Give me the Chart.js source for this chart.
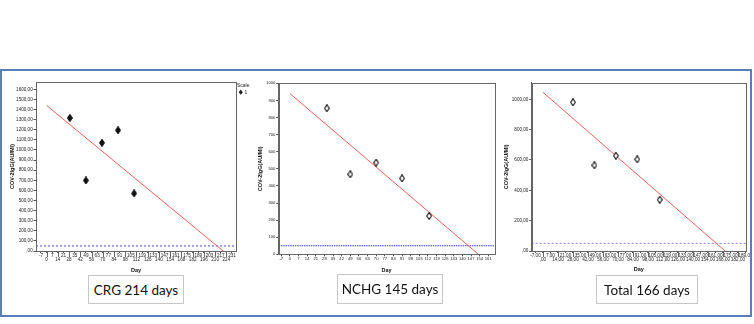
<!DOCTYPE html>
<html><head><meta charset="utf-8">
<script src="https://cdn.jsdelivr.net/npm/chart.js@4.4.1/dist/chart.umd.min.js"></script>
<style>
html,body{margin:0;padding:0;background:#fff;width:754px;height:324px;overflow:hidden;position:relative;font-family:'Liberation Sans',Arial,sans-serif;}
.outer{position:absolute;left:0;top:69px;width:752px;height:248px;box-sizing:border-box;border:2px solid #5a7eb8;z-index:5;pointer-events:none;}
.wrap{position:absolute;overflow:hidden;}
.wrap canvas{position:absolute;left:0;top:0;}
.lbl{position:absolute;box-sizing:border-box;border:1px solid #c6c6c6;background:#fff;display:flex;align-items:center;justify-content:center;font-family:Lato,'Open Sans',sans-serif;font-size:13.5px;color:#111;z-index:4;}
.leg{position:absolute;font-size:5px;color:#222;line-height:1;z-index:4;}
</style>
</head><body>
<div class="outer"></div>
<div class="wrap" style="left:2px;top:72px;width:253px;height:204px;"><canvas id="c1" width="253" height="204"></canvas></div>
<div class="wrap" style="left:252px;top:72px;width:248px;height:204px;"><canvas id="c2" width="248" height="204"></canvas></div>
<div class="wrap" style="left:500px;top:72px;width:250px;height:204px;"><canvas id="c3" width="262" height="204"></canvas></div>
<div class="leg" id="legTitle" style="left:237px;top:83px;"></div>
<div class="leg" style="left:238px;top:88.5px;font-size:7px;font-family:'DejaVu Sans';transform:scaleX(0.75);">&#9670;</div>
<div class="leg" id="legItem" style="left:244.5px;top:90px;"></div>
<div class="lbl" id="l1" style="left:88px;top:275px;width:96px;height:29px;"></div>
<div class="lbl" id="l2" style="left:337px;top:274px;width:106px;height:30px;"></div>
<div class="lbl" id="l3" style="left:596px;top:275px;width:102px;height:29px;"></div>
<script>
// ---- data ----
const crgDays = [29, 49, 69, 89, 109];
const crgValues = [1316, 698, 1070, 1195, 570];
const crgFitDays = [0, 220];
const crgFitValues = [1440, 0];
const crgXTicks = [-7,0,7,14,21,28,35,42,49,56,63,70,77,84,91,98,105,112,119,126,133,140,147,154,161,168,175,182,189,196,203,210,217,224,231];
const crgYTicks = [0,100,200,300,400,500,600,700,800,900,1000,1100,1200,1300,1400,1500,1600];

const nchgDays = [30, 49, 70, 91, 113];
const nchgValues = [854, 468, 536, 444, 224];
const nchgFitDays = [0, 153];
const nchgFitValues = [940, 0];
const nchgXTicks = [-7,0,7,14,21,28,35,42,49,56,63,70,77,84,91,98,105,112,119,126,133,140,147,154,161];
const nchgYTicks = [0,100,200,300,400,500,600,700,800,900,1000];

const totalDays = [28, 48, 68, 88, 109];
const totalValues = [980, 565, 628, 604, 338];
const totalFitDays = [0, 170];
const totalFitValues = [1046, 0];
const totalXTicks = [-7,0,7,14,21,28,35,42,49,56,63,70,77,84,91,98,105,112,119,126,133,140,147,154,161,168,175,182,189];
const totalYTicks = [0,200,400,600,800,1000];

const cutoffValue = 50;
const panelLabels = ['CRG 214 days', 'NCHG 145 days', 'Total 166 days'];
const yTitle = 'COV-2IgG(AU/Ml)';
const xTitle = 'Day';
const legendTitle = 'Scale';
const legendItem = '1';

document.getElementById('l1').textContent = panelLabels[0];
document.getElementById('l2').textContent = panelLabels[1];
document.getElementById('l3').textContent = panelLabels[2];
document.getElementById('legTitle').textContent = legendTitle;
document.getElementById('legItem').textContent = legendItem;

function diamond(fill) {
  const c = document.createElement('canvas');
  c.width = 6; c.height = 8;
  const g = c.getContext('2d');
  g.beginPath();
  g.moveTo(3, 0.6); g.lineTo(5.4, 4); g.lineTo(3, 7.4); g.lineTo(0.6, 4); g.closePath();
  g.fillStyle = fill; g.fill();
  g.strokeStyle = '#111'; g.lineWidth = 1.1; g.stroke();
  return c;
}

const commaFmt = v => (v === 0 ? ',00' : v + ',00');
const plainFmt = v => String(v);

const framePlugin = {
  id: 'panelFrame',
  afterDatasetsDraw(chart, args, opts) {
    const {ctx, chartArea: a} = chart;
    ctx.save();
    ctx.strokeStyle = '#666'; ctx.lineWidth = 1;
    ctx.strokeRect(Math.round(a.left) + 0.5, Math.round(a.top) + 0.5, Math.round(a.right - a.left), Math.round(a.bottom - a.top));
    if (opts && opts.stagger) {
      const xs = chart.scales.x;
      xs.ticks.forEach((t, i) => {
        if (i % 2 === 1) {
          const px = Math.round(xs.getPixelForValue(t.value)) + 0.5;
          ctx.beginPath(); ctx.moveTo(px, a.bottom); ctx.lineTo(px, a.bottom + 6); ctx.stroke();
        }
      });
    }
    ctx.restore();
  }
};

function makeChart(id, o) {
  const tickFont = {family: "'Liberation Sans', Arial", size: o.tickSize, lineHeight: 0.95};
  const titleFont = {family: "'Liberation Sans', Arial", size: 5.5, weight: 'bold', lineHeight: 1.2};
  return new Chart(document.getElementById(id), {
    type: 'scatter',
    data: { datasets: [
      { data: o.days.map((d, i) => ({x: d, y: o.values[i]})), pointStyle: o.marker, pointRadius: 4 },
      { data: o.fitDays.map((d, i) => ({x: d, y: o.fitValues[i]})), showLine: true, borderColor: '#f0605c', borderWidth: 1, pointRadius: 0 },
      { data: [{x: o.xMin, y: cutoffValue}, {x: o.xMax, y: cutoffValue}], showLine: true, borderColor: o.cutColor, borderWidth: 1, borderDash: o.cutDash, pointRadius: 0 }
    ]},
    options: {
      responsive: false, animation: false, events: [],
      layout: {padding: {top: o.padTop, right: o.padRight, left: 0, bottom: 0}},
      plugins: {legend: {display: false}, tooltip: {enabled: false}, panelFrame: {stagger: o.stagger}},
      scales: {
        x: {
          type: 'linear', min: o.xMin, max: o.xMax,
          afterBuildTicks: s => { s.ticks = o.xTicks.map(v => ({value: v})); },
          afterFit: s => { s.height = o.xAxisHeight; },
          grid: {drawOnChartArea: false, tickLength: 2, color: '#555', tickColor: '#555'},
          border: {color: '#666'},
          ticks: {autoSkip: false, maxRotation: 0, minRotation: 0, padding: 0.5, font: tickFont, color: '#222',
            callback: (v, i) => o.stagger ? (i % 2 === 0 ? [o.xFmt(v), ''] : ['', o.xFmt(v)]) : o.xFmt(v)},
          title: {display: true, text: xTitle, color: '#111', font: titleFont, padding: {top: 0, bottom: o.xTitlePad}}
        },
        y: {
          type: 'linear', min: 0, max: o.yMax,
          afterBuildTicks: s => { s.ticks = o.yTicks.map(v => ({value: v})); },
          afterFit: s => { s.width = o.yAxisWidth; },
          grid: {drawOnChartArea: false, tickLength: 2.5, color: '#555', tickColor: '#555'},
          border: {color: '#666'},
          ticks: {autoSkip: false, padding: 0.8, font: {family: "'Liberation Sans', Arial", size: o.yTickSize}, color: '#222',
            callback: v => o.yFmt(v)},
          title: {display: true, text: yTitle, color: '#111', font: titleFont, padding: {top: o.yTitlePad, bottom: 0}}
        }
      }
    },
    plugins: [framePlugin]
  });
}

makeChart('c1', {
  days: crgDays, values: crgValues, fitDays: crgFitDays, fitValues: crgFitValues,
  xTicks: crgXTicks, yTicks: crgYTicks, xMin: -13.2, xMax: 236, yMax: 1672,
  xFmt: plainFmt, yFmt: commaFmt, stagger: true, marker: diamond('#111'),
  cutColor: '#4b4bd0', cutDash: [2, 2],
  yAxisWidth: 34, xAxisHeight: 25, padTop: 10, padRight: 19, yTitlePad: 6.7, xTitlePad: 2.7,
  tickSize: 4.6, yTickSize: 4.6
});
makeChart('c2', {
  days: nchgDays, values: nchgValues, fitDays: nchgFitDays, fitValues: nchgFitValues,
  xTicks: nchgXTicks, yTicks: nchgYTicks, xMin: -9.1, xMax: 165.9, yMax: 1000,
  xFmt: plainFmt, yFmt: plainFmt, stagger: false, marker: diamond('#fff'),
  cutColor: '#3636f0', cutDash: [1.5, 0.8],
  yAxisWidth: 26.7, xAxisHeight: 21.7, padTop: 11.3, padRight: 5.7, yTitlePad: 4.7, xTitlePad: 2.7,
  tickSize: 4.2, yTickSize: 4.2
});
makeChart('c3', {
  days: totalDays, values: totalValues, fitDays: totalFitDays, fitValues: totalFitValues,
  xTicks: totalXTicks, yTicks: totalYTicks, xMin: -10.5, xMax: 189.5, yMax: 1109,
  xFmt: commaFmt, yFmt: commaFmt, stagger: true, marker: diamond('#fff'),
  cutColor: '#8c8cf0', cutDash: [2, 2],
  yAxisWidth: 31.7, xAxisHeight: 25, padTop: 10.7, padRight: 16, yTitlePad: 2.7, xTitlePad: 3.7,
  tickSize: 4.6, yTickSize: 4.6
});
</script>
</body></html>
